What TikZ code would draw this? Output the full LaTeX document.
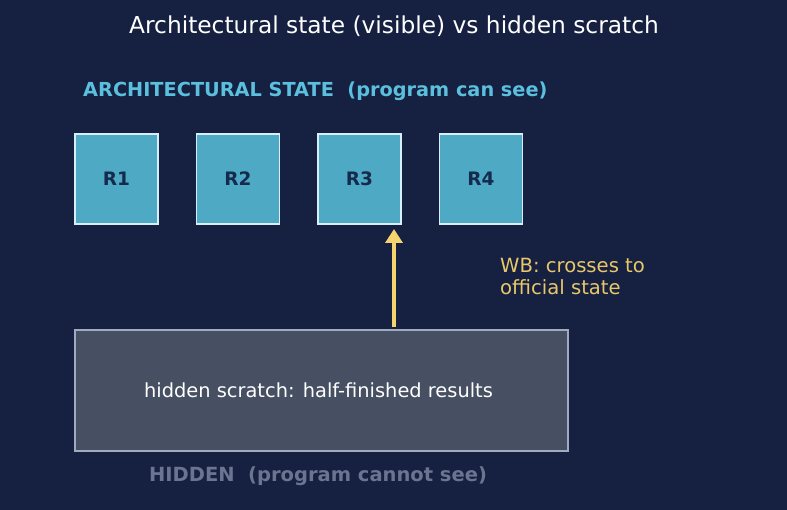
\documentclass[tikz,border=0pt]{standalone}
\usepackage{fontspec}
\setmainfont{DejaVu Sans}
\usetikzlibrary{arrows.meta}
\definecolor{bg}{HTML}{162040}
\definecolor{regfill}{HTML}{4EAAC4}
\definecolor{regdraw}{HTML}{D8EEF8}
\definecolor{regtext}{HTML}{162A4E}
\definecolor{headc}{HTML}{5BC0DE}
\definecolor{hidfill}{HTML}{465062}
\definecolor{hiddraw}{HTML}{A0AAC0}
\definecolor{arrowc}{HTML}{F5D46E}
\definecolor{wbc}{HTML}{E8C86A}
\definecolor{hidlab}{HTML}{6B7591}
\tikzset{
  regbox/.style={draw=regdraw, fill=regfill, line width=1.2pt, minimum width=83pt, minimum height=90pt, inner sep=0pt, font=\fontsize{18.5}{20}\selectfont\bfseries, text=regtext},
  hidbox/.style={draw=hiddraw, fill=hidfill, line width=1.2pt, minimum width=493pt, minimum height=121pt, inner sep=0pt},
}
\begin{document}
\begin{tikzpicture}[x=1pt,y=1pt]
\fill[bg] (0,0) rectangle (787,-510);
\useasboundingbox (0,0) rectangle (787,-510);
\node[text=white, font=\fontsize{23.3}{26}\selectfont] (title) at (394,-26) {Architectural state (visible) vs hidden scratch};
\node[anchor=west, text=headc, font=\fontsize{19.3}{22}\selectfont\bfseries, inner sep=0pt] (head) at (83,-91.5) {ARCHITECTURAL STATE\ \ (program can see)};
\node[regbox] (r1) at (116.5,-179) {R1};
\node[regbox] (r2) at (238,-179) {R2};
\node[regbox] (r3) at (359.5,-179) {R3};
\node[regbox] (r4) at (481,-179) {R4};
\node[hidbox] (hid) at (321.5,-390.5) {};
\node[text=white, font=\fontsize{19.4}{22}\selectfont] (hidtext) at (318.5,-390.5) {hidden scratch: half-finished results};
\node[text=hidlab, font=\fontsize{19.5}{22}\selectfont\bfseries] (hidlabel) at (318,-476.5) {HIDDEN\ \ (program cannot see)};
\node[anchor=north west, align=left, text=wbc, font=\fontsize{19.6}{22}\selectfont, inner sep=0pt] (wb) at (500,-258) {WB: crosses to\\official state};
\coordinate (a0) at (394,-327);
\coordinate (a1) at (394,-229);
\draw[arrowc, line width=3.5pt, -{Triangle[length=14pt,width=17pt]}] (a0) -- (a1);
\end{tikzpicture}
\end{document}
